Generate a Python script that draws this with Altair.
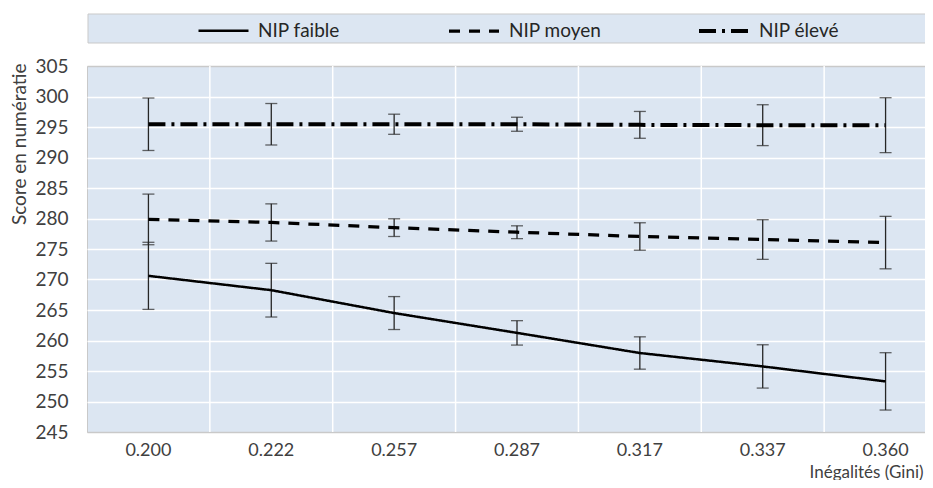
import altair as alt
import pandas as pd

gini = ["0.200", "0.222", "0.257", "0.287", "0.317", "0.337", "0.360"]
series_names = ["NIP faible", "NIP moyen", "NIP élevé"]

faible = [270.6, 268.25, 264.5, 261.25, 257.95, 255.75, 253.3]
faible_err = [5.5, 4.4, 2.7, 2.0, 2.65, 3.55, 4.7]
moyen = [279.85, 279.35, 278.5, 277.75, 277.05, 276.55, 276.05]
moyen_err = [4.15, 3.05, 1.45, 1.05, 2.25, 3.25, 4.3]
eleve = [295.45, 295.45, 295.45, 295.45, 295.35, 295.3, 295.3]
eleve_err = [4.3, 3.4, 1.65, 1.15, 2.2, 3.35, 4.5]

y_ticks = list(range(245, 306, 5))

rows = []
for name, vals, errs in zip(series_names, [faible, moyen, eleve], [faible_err, moyen_err, eleve_err]):
    for g, v, e in zip(gini, vals, errs):
        rows.append({"series": name, "gini": g, "score": v, "lo": v - e, "hi": v + e})
df = pd.DataFrame(rows)
cats = pd.DataFrame({"gini": gini})
band_df = pd.DataFrame({"band": [0]})

W, H = 860, 366
PAD_L, PAD_R = 79, -22
FONT = "Lato"
GREY = "#404040"
BAR = "#262626"

xscale = alt.Scale(type="band", domain=gini, paddingInner=0, paddingOuter=0)
yscale = alt.Scale(domain=[245, 305], nice=False, zero=False)

x_axis = alt.Axis(title="Inégalités (Gini)", grid=False, ticks=False, tickSize=0,
                  domain=False, bandPosition=0.5, labelAlign="center", labelFlush=False,
                  labelPadding=9, labelFontSize=18, labelFont=FONT,
                  labelColor=GREY, labelAngle=0,
                  titleFont=FONT, titleFontSize=17, titleFontWeight="normal",
                  titleColor=GREY, titleX=W + PAD_R - 2, titleY=45, titleAlign="right",
                  titleBaseline="alphabetic")

y_axis = alt.Axis(title="Score en numératie", values=y_ticks, tickCount=len(y_ticks), grid=True,
                  gridColor=alt.condition("datum.value == 305 || datum.value == 245",
                                          alt.value("#c9c9c9"), alt.value("white")),
                  gridWidth=1.5, ticks=False, tickSize=0, domain=False,
                  labelOverlap=False,
                  labelPadding=19, labelFontSize=19, labelFont=FONT, labelColor=GREY,
                  titleFont=FONT, titleFontSize=19, titleFontWeight="normal",
                  titleColor=GREY, titleX=-68, titleY=-3, titleAlign="right",
                  titleBaseline="middle", titleAngle=-90)

band = alt.Chart(band_df).mark_rect(fill="#dce6f2", stroke="#c9c9c9", strokeWidth=1).encode(
    x=alt.value(1), x2=alt.value(W + 40), y=alt.value(-52), y2=alt.value(-23)
)

base = alt.Chart(df)

legend_kw = dict(title=None, orient="none", direction="horizontal",
                 legendX=110, legendY=-62, padding=0,
                 symbolType="stroke", symbolSize=2500,
                 symbolStrokeColor="black",
                 labelFont=FONT, labelFontSize=19,
                 labelColor="#262626", labelOffset=8,
                 columnPadding=89, gridAlign="all")

lines = base.mark_line(color="black").encode(
    x=alt.X("gini:N", scale=xscale, sort=gini, axis=x_axis),
    y=alt.Y("score:Q", scale=yscale, axis=y_axis),
    strokeDash=alt.StrokeDash("series:N",
                              scale=alt.Scale(domain=series_names,
                                              range=[[1, 0], [11, 9], [17, 6, 3, 6]]),
                              legend=alt.Legend(**legend_kw)),
    strokeWidth=alt.StrokeWidth("series:N",
                                scale=alt.Scale(domain=series_names, range=[2.5, 4, 2.3]),
                                legend=alt.Legend(**legend_kw)),
)

vgrid = alt.Chart(cats).transform_filter(alt.datum.gini != gini[0]).mark_rule(
    color="white", strokeWidth=1.5
).encode(
    x=alt.X("gini:N", scale=xscale, bandPosition=0, axis=x_axis)
)

bars = base.mark_rule(color=BAR, strokeWidth=1.3).encode(
    x=alt.X("gini:N", scale=xscale, axis=x_axis),
    y=alt.Y("lo:Q", scale=yscale, axis=y_axis),
    y2="hi:Q",
)
cap_lo = base.mark_tick(color=BAR, size=12, thickness=1.3, orient="horizontal").encode(
    x=alt.X("gini:N", scale=xscale, axis=x_axis),
    y=alt.Y("lo:Q", scale=yscale, axis=y_axis)
)
cap_hi = base.mark_tick(color=BAR, size=12, thickness=1.3, orient="horizontal").encode(
    x=alt.X("gini:N", scale=xscale, axis=x_axis),
    y=alt.Y("hi:Q", scale=yscale, axis=y_axis)
)

chart = alt.layer(band, vgrid, bars, cap_lo, cap_hi, lines).properties(
    width=W, height=H,
    autosize=alt.AutoSizeParams(type="none"),
    padding={"left": PAD_L, "top": 58, "right": PAD_R, "bottom": 48},
).configure_view(
    fill="#dce6f2", stroke="#c9c9c9", strokeWidth=1
)

chart.save("out.html", embed_options={"renderer": "svg", "actions": False})
